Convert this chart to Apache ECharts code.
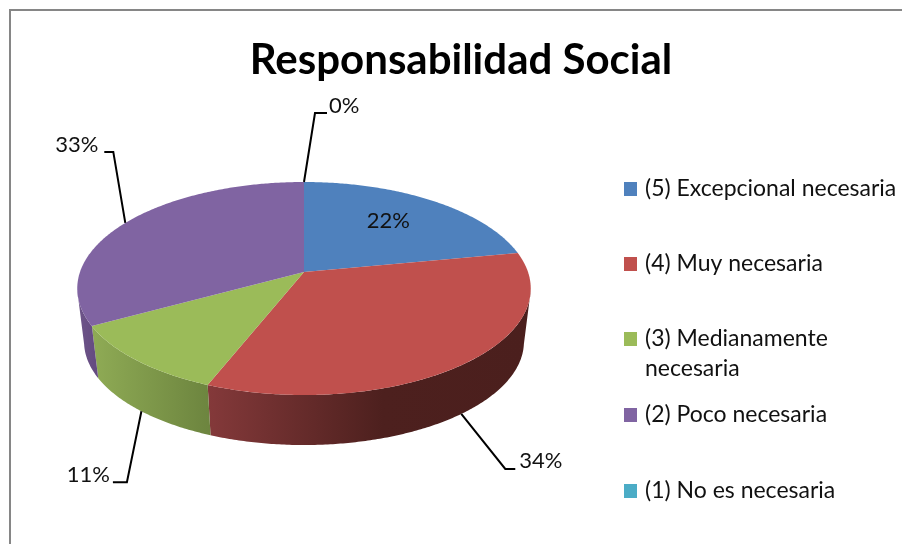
<!DOCTYPE html>
<html>
<head>
<meta charset="utf-8">
<style>html,body{margin:0;padding:0;background:#fff}#chart{width:902px;height:544px}</style>
<script src="https://cdn.jsdelivr.net/npm/echarts@6/dist/echarts.min.js"></script>
</head>
<body>
<div id="chart"></div>
<script>
// Survey answers for "Responsabilidad Social", in percent.
const categories = [
  '(5) Excepcional necesaria',
  '(4) Muy necesaria',
  '(3) Medianamente necesaria',
  '(2) Poco necesaria',
  '(1) No es necesaria'
];
const values = [22, 34, 11, 33, 0];
const topColors = ['#4F81BD', '#C0504D', '#9BBB59', '#8064A2', '#4BACC6'];
const wallStops = [
  [{ offset: 0, color: '#3a5f8c' }, { offset: 1, color: '#2c4a6e' }],
  [{ offset: 0, color: '#84393a' }, { offset: 0.55, color: '#4d201e' }, { offset: 1, color: '#4b1f1d' }],
  [{ offset: 0, color: '#8fab55' }, { offset: 1, color: '#6d853f' }],
  [{ offset: 0, color: '#6e5589' }, { offset: 1, color: '#62497f' }],
  [{ offset: 0, color: '#3a8ba0' }, { offset: 1, color: '#2f7688' }]
];
const wallSpan = [[304, 530], [208, 526], [92, 208], [78, 100], [78, 100]];
const legendTop = [174, 249, 294, 400, 476];

// Projection of the unit disc onto the tilted pie top.
const view = { cx: 304, cy: 272, rx: 224, lift: -61.8, persp: 0.155, shrink: 0.97, drop: 53.7 };
const FRONT_V = -0.178;

function topPoint(u, v) {
  const d = 1 + view.persp * v;
  return [view.cx + view.rx * u / d, (view.cy + view.lift * v) / d];
}
function basePoint(u, v) {
  const p = topPoint(u, v);
  return [
    view.cx + view.shrink * (p[0] - view.cx),
    view.cy + view.drop + view.shrink * (p[1] - view.cy)
  ];
}
function rim(fn, a0, a1) {
  const pts = [];
  const n = Math.max(2, Math.ceil(Math.abs(a1 - a0) / 0.01));
  for (let i = 0; i <= n; i++) {
    const a = a0 + (a1 - a0) * i / n;
    pts.push(fn(Math.sin(a), Math.cos(a)));
  }
  return pts;
}

const total = values.reduce((s, v) => s + v, 0);
function sliceAngles(idx) {
  let before = 0;
  for (let i = 0; i < idx; i++) before += values[i];
  return [before / total * 2 * Math.PI, (before + values[idx]) / total * 2 * Math.PI];
}

// Clip an angular range to the part of the rim that faces the viewer.
function frontRange(a0, a1) {
  const start = Math.acos(FRONT_V);
  const end = 2 * Math.PI - start;
  const lo = Math.max(a0, start), hi = Math.min(a1, end);
  return hi > lo ? [lo, hi] : null;
}

const renderSlice = idx => function (params, api) {
  const [a0, a1] = sliceAngles(idx);
  const children = [];
  const front = frontRange(a0, a1);
  if (front) {
    const upper = rim(topPoint, front[0], front[1]);
    const lower = rim(basePoint, front[0], front[1]).reverse();
    children.push({
      type: 'polygon',
      shape: { points: upper.concat(lower) },
      style: {
        fill: new echarts.graphic.LinearGradient(
          wallSpan[idx][0], 0, wallSpan[idx][1], 0, wallStops[idx], true)
      }
    });
  }
  if (a1 > a0) {
    children.push({
      type: 'polygon',
      shape: { points: [topPoint(0, 0)].concat(rim(topPoint, a0, a1)) },
      style: { fill: topColors[idx] }
    });
  }
  return { type: 'group', children };
};

// Percentage labels: elbow and text are placed relative to the rim anchor.
const callouts = [
  null,
  { onBase: true, elbow: [44, 55], end: [54, 55], text: [58, 47], align: 'left' },
  { onBase: true, elbow: [-14.5, 71], end: [-28.5, 71], text: [-31.5, 64], align: 'right' },
  { onBase: false, elbow: [-12, -71], end: [-21, -71], text: [-27, -78], align: 'right' },
  { onBase: false, elbow: [11, -69], end: [23, -69], text: [25, -76], align: 'left' }
];
const labelFont = '22px Lato, sans-serif';

function renderLabels(params, api) {
  const children = [];
  values.forEach((v, i) => {
    const [a0, a1] = sliceAngles(i);
    const mid = (a0 + a1) / 2;
    const label = Math.round(v / total * 100) + '%';
    const c = callouts[i];
    if (!c) {
      const p = topPoint(Math.sin(mid) * 0.62, Math.cos(mid) * 0.62);
      children.push({
        type: 'text',
        style: { x: p[0] + 2, y: p[1] - 5, text: label, fill: '#111', font: labelFont, align: 'center', verticalAlign: 'middle' }
      });
      return;
    }
    const anchor = (c.onBase ? basePoint : topPoint)(Math.sin(mid), Math.cos(mid));
    children.push({
      type: 'polyline',
      shape: { points: [anchor, [anchor[0] + c.elbow[0], anchor[1] + c.elbow[1]], [anchor[0] + c.end[0], anchor[1] + c.end[1]]] },
      style: { stroke: '#000', lineWidth: 2, fill: null }
    });
    children.push({
      type: 'text',
      style: {
        x: anchor[0] + c.text[0], y: anchor[1] + c.text[1], text: label, fill: '#111',
        font: labelFont, align: c.align, verticalAlign: 'middle'
      }
    });
  });
  return { type: 'group', children };
}

const series = categories.map((name, i) => ({
  type: 'custom',
  name,
  coordinateSystem: 'none',
  renderItem: renderSlice(i),
  data: [[values[i]]],
  itemStyle: { color: topColors[i] },
  silent: true,
  z: 2
}));
series.push({
  type: 'custom',
  name: 'porcentajes',
  coordinateSystem: 'none',
  renderItem: renderLabels,
  data: [values],
  silent: true,
  z: 5
});

const legends = categories.map((name, i) => ({
  data: [name],
  orient: 'vertical',
  left: 624,
  top: legendTop[i],
  padding: 0,
  itemWidth: 13,
  itemHeight: 14,
  itemGap: 0,
  icon: 'rect',
  selectedMode: false,
  textStyle: { fontFamily: 'Lato, sans-serif', fontSize: 23, color: '#111', lineHeight: 30, padding: [0, 0, 0, 3] },
  formatter: n => n === '(3) Medianamente necesaria' ? '\u00a0\n(3) Medianamente\nnecesaria' : n
}));

const chart = echarts.init(document.getElementById('chart'), null, { renderer: 'canvas' });
chart.setOption({
  animation: false,
  backgroundColor: '#fff',
  title: {
    text: 'Responsabilidad Social',
    left: 456,
    top: 34,
    textAlign: 'center',
    textStyle: { fontFamily: 'Lato, sans-serif', fontWeight: 'bold', fontSize: 42, color: '#000' }
  },
  legend: legends,
  graphic: [{
    type: 'polyline',
    silent: true,
    shape: { points: [[10, 544], [10, 10], [902, 10]] },
    style: { stroke: '#868686', lineWidth: 2, fill: null }
  }],
  series
});
</script>
</body>
</html>
